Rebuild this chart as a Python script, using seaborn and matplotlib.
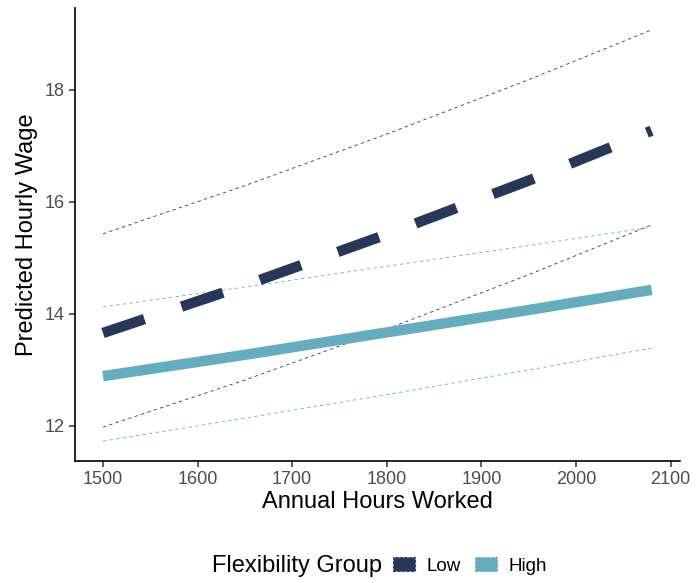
import numpy as np
import pandas as pd
import matplotlib
matplotlib.use("Agg")
import matplotlib.pyplot as plt
from matplotlib.patches import Patch
import seaborn as sns

hours = [1500, 1650, 1800, 1950, 2080]
low_fit = [13.66, 14.51, 15.42, 16.38, 17.27]
low_upper = [15.43, 16.29, 17.21, 18.18, 19.07]
low_lower = [11.98, 12.82, 13.73, 14.70, 15.59]
high_fit = [12.89, 13.27, 13.67, 14.07, 14.43]
high_upper = [14.125, 14.48, 14.85, 15.22, 15.55]
high_lower = [11.73, 12.14, 12.56, 13.00, 13.39]
groups = ["Low", "High"]
x_ticks = [1500, 1600, 1700, 1800, 1900, 2000, 2100]
y_ticks = [12, 14, 16, 18]

colors = {"Low": "#283659", "High": "#63adbe"}

df = pd.DataFrame({
    "hours": hours * 2,
    "fit": low_fit + high_fit,
    "upper": low_upper + high_upper,
    "lower": low_lower + high_lower,
    "group": ["Low"] * len(hours) + ["High"] * len(hours),
})

sns.set_theme(style="ticks")
plt.rcParams["font.family"] = ["Liberation Sans", "DejaVu Sans"]

fig = plt.figure(figsize=(6.96, 5.83), dpi=100)
ax = fig.add_axes([75 / 696, (583 - 461) / 583, (680 - 75) / 696, (461 - 8) / 583])

for g in groups:
    sub = df[df.group == g]
    for col in ["upper", "lower"]:
        sns.lineplot(data=sub, x="hours", y=col, ax=ax, color=colors[g],
                     linewidth=0.6, dashes=False, legend=False, sort=True)
        ax.lines[-1].set_dashes([4, 4])

sns.lineplot(data=df[df.group == "High"], x="hours", y="fit", ax=ax,
             color=colors["High"], linewidth=7.5, legend=False)
ax.lines[-1].set_solid_capstyle("butt")
sns.lineplot(data=df[df.group == "Low"], x="hours", y="fit", ax=ax,
             color=colors["Low"], linewidth=7.5, legend=False)
ax.lines[-1].set_dashes([4.2, 3.75])
ax.lines[-1].set_dash_capstyle("butt")

ax.set_xlim(1470.4, 2110)
ax.set_ylim(11.375, 19.46)
ax.set_xticks(x_ticks)
ax.set_yticks(y_ticks)
ax.tick_params(axis="both", labelsize=13, labelcolor="#4d4d4d", length=4,
               width=1.1, color="#333333", direction="out")
for s in ["left", "bottom"]:
    ax.spines[s].set_linewidth(1.2)
    ax.spines[s].set_color("black")
sns.despine(ax=ax)
ax.set_xlabel("Annual Hours Worked", fontsize=17, color="black", labelpad=2)
ax.set_ylabel("Predicted Hourly Wage", fontsize=17, color="black", labelpad=5)

fig.text(382 / 696, 1 - 566 / 583, "Flexibility Group", fontsize=17,
         ha="right", va="center", color="black")
handles = [Patch(facecolor=colors[g], edgecolor=colors[g], linestyle=(0, (2, 2)),
                 linewidth=0.8) for g in groups]
leg = fig.legend(handles, groups, loc="center left",
                 bbox_to_anchor=(384 / 696, 1 - 566 / 583), ncol=2, frameon=False,
                 fontsize=13.5, handlelength=1.15, handleheight=0.7,
                 handletextpad=0.6, columnspacing=0.8, borderpad=0,
                 labelcolor="black")

fig.savefig("out.png", dpi=100)
